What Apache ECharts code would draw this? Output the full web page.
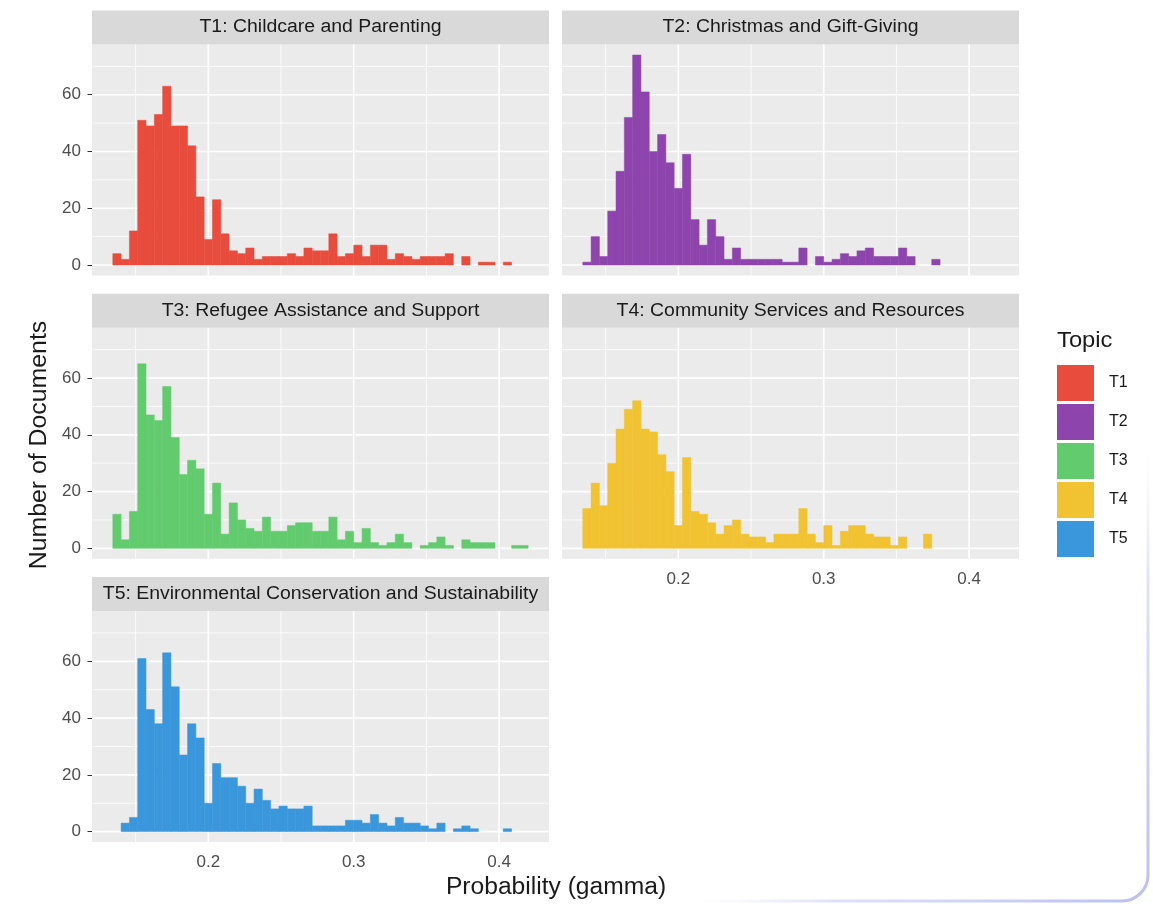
<!DOCTYPE html>
<html>
<head>
<meta charset="utf-8">
<title>Topic probability histograms</title>
<script src="https://cdn.jsdelivr.net/npm/echarts@6/dist/echarts.min.js"></script>
<style>
  html, body { margin: 0; padding: 0; background: #ffffff; }
  #chart { width: 1153px; height: 904px; }
</style>
</head>
<body>
<div id="chart"></div>
<script>
// Histogram bins shared by every facet (50 bins on the gamma scale)
const binStart = 0.1343;
const binWidth = 0.005714;

const topicNames = ['T1', 'T2', 'T3', 'T4', 'T5'];
const topicTitles = [
  'T1: Childcare and Parenting',
  'T2: Christmas and Gift-Giving',
  'T3: Refugee Assistance and Support',
  'T4: Community Services and Resources',
  'T5: Environmental Conservation and Sustainability'
];
const topicColors = ['#E74C3C', '#8E44AD', '#62CB6E', '#F1C232', '#3A97DB'];

// Document counts per bin
const countsT1 = [4, 2, 12, 51, 49, 53, 63, 49, 49, 42, 24, 9, 23, 11, 5, 4, 6, 2, 3, 3,
                  3, 4, 3, 6, 5, 5, 11, 3, 4, 7, 3, 7, 7, 2, 4, 3, 2, 3, 3, 3,
                  4, 0, 3, 0, 1, 1, 0, 1, 0, 0];
const countsT2 = [1, 10, 3, 19, 33, 52, 74, 61, 40, 46, 36, 27, 39, 16, 7, 16, 10, 2, 6, 2,
                  2, 2, 2, 2, 1, 1, 6, 0, 3, 1, 2, 4, 3, 5, 6, 3, 3, 3, 6, 3,
                  0, 0, 2, 0, 0, 0, 0, 0, 0, 0];
const countsT3 = [12, 3, 13, 65, 47, 45, 57, 39, 26, 31, 28, 12, 23, 5, 16, 10, 7, 6, 11, 6,
                  6, 8, 9, 9, 6, 6, 11, 3, 6, 2, 7, 2, 1, 2, 5, 2, 0, 1, 2, 4,
                  1, 0, 3, 2, 2, 2, 0, 0, 1, 1];
const countsT4 = [14, 23, 15, 30, 42, 49, 52, 42, 41, 33, 27, 8, 32, 13, 12, 9, 5, 8, 10, 5,
                  4, 4, 2, 5, 5, 5, 14, 5, 2, 8, 1, 6, 8, 8, 5, 4, 4, 1, 4, 0,
                  0, 5, 0, 0, 0, 0, 0, 0, 0, 0];
const countsT5 = [0, 3, 5, 61, 43, 38, 63, 51, 27, 38, 33, 10, 24, 19, 19, 16, 10, 15, 11, 8,
                  9, 8, 8, 9, 2, 2, 2, 2, 4, 4, 3, 6, 3, 2, 5, 3, 3, 2, 1, 3,
                  0, 1, 2, 1, 0, 0, 0, 1, 0, 0];

// Axis breaks
const xTicks = [0.2, 0.3, 0.4];
const xMinorTicks = [0.15, 0.25, 0.35];
const yTicks = [0, 20, 40, 60];
const yMinorTicks = [10, 30, 50, 70];
const xRange = [0.12, 0.4343];
const yRange = [-3.7, 77.7];

const allCounts = [countsT1, countsT2, countsT3, countsT4, countsT5];

// Facet layout
const FONT = "'Liberation Sans', Arial, Helvetica, sans-serif";
const colLeft = [92, 562];
const rowTop = [44.5, 327.8, 611.1];
const panelW = 457, panelH = 231, stripH = 34;
const panelCol = [0, 1, 0, 1, 0];
const panelRow = [0, 0, 1, 1, 2];
const hasXLabels = [false, false, false, true, true];

function renderBar(params, api) {
  const p0 = api.coord([api.value(0), 0]);
  const p1 = api.coord([api.value(1), api.value(2)]);
  const color = api.visual('color');
  return {
    type: 'rect',
    shape: { x: p0[0], y: p1[1], width: p1[0] - p0[0], height: p0[1] - p1[1] },
    style: { fill: color, stroke: color, lineWidth: 0.5 }
  };
}

function renderGridLine(params, api) {
  const cs = params.coordSys;
  const isX = api.value(0) === 0;
  const v = api.value(1);
  const major = api.value(2) === 1;
  const p = api.coord(isX ? [v, 0] : [xRange[0], v]);
  const shape = isX
    ? { x1: p[0], y1: cs.y, x2: p[0], y2: cs.y + cs.height }
    : { x1: cs.x, y1: p[1], x2: cs.x + cs.width, y2: p[1] };
  return {
    type: 'line',
    shape: shape,
    style: { stroke: '#FFFFFF', lineWidth: major ? 1.7 : 0.8 },
    silent: true
  };
}

const grids = [], xAxes = [], yAxes = [], series = [], graphics = [];

topicNames.forEach(function (name, i) {
  const left = colLeft[panelCol[i]];
  const top = rowTop[panelRow[i]];
  const showY = panelCol[i] === 0;
  const showX = hasXLabels[i];

  grids.push({
    left: left, top: top, width: panelW, height: panelH,
    show: true, backgroundColor: '#EBEBEB', borderWidth: 0,
    containLabel: false, outerBoundsMode: 'none'
  });

  xAxes.push({
    gridIndex: i, type: 'value', min: xRange[0], max: xRange[1],
    splitLine: { show: false }, axisLine: { show: false },
    axisTick: { show: showX, customValues: xTicks, length: 4.5, lineStyle: { color: '#333333', width: 1 } },
    axisLabel: {
      show: showX, customValues: xTicks, margin: 12,
      fontFamily: FONT, fontSize: 17, color: '#4D4D4D',
      formatter: function (v) { return v.toFixed(1); }
    }
  });

  yAxes.push({
    gridIndex: i, type: 'value', min: yRange[0], max: yRange[1],
    splitLine: { show: false }, axisLine: { show: false },
    axisTick: { show: showY, customValues: yTicks, length: 4.5, lineStyle: { color: '#333333', width: 1 } },
    axisLabel: {
      show: showY, customValues: yTicks, margin: 11,
      fontFamily: FONT, fontSize: 17, color: '#4D4D4D'
    }
  });

  const gridData = []
    .concat(xMinorTicks.map(function (v) { return [0, v, 0]; }))
    .concat(yMinorTicks.map(function (v) { return [1, v, 0]; }))
    .concat(xTicks.map(function (v) { return [0, v, 1]; }))
    .concat(yTicks.map(function (v) { return [1, v, 1]; }));

  series.push({
    type: 'custom', name: 'gridlines-' + name,
    xAxisIndex: i, yAxisIndex: i, z: 1, silent: true,
    renderItem: renderGridLine, data: gridData,
    encode: { x: 1, y: 1 }
  });

  const barData = [];
  allCounts[i].forEach(function (c, k) {
    if (c > 0) {
      barData.push([binStart + k * binWidth, binStart + (k + 1) * binWidth, c]);
    }
  });

  series.push({
    type: 'custom', name: name,
    xAxisIndex: i, yAxisIndex: i, z: 3,
    itemStyle: { color: topicColors[i] },
    renderItem: renderBar, data: barData,
    encode: { x: [0, 1], y: 2 }
  });

  // facet strip
  graphics.push({
    type: 'rect', silent: true,
    shape: { x: left, y: top - stripH, width: panelW, height: stripH },
    style: { fill: '#D9D9D9' }
  });
  graphics.push({
    type: 'text', silent: true,
    x: left + panelW / 2, y: top - stripH / 2, scaleX: 1.08,
    style: {
      text: topicTitles[i], fill: '#1A1A1A',
      font: '18px ' + FONT,
      align: 'center', verticalAlign: 'middle',
      textAlign: 'center', textVerticalAlign: 'middle'
    }
  });
});

// axis titles
graphics.push({
  type: 'text', silent: true,
  x: 556, y: 888, scaleX: 1.07,
  style: {
    text: 'Probability (gamma)', fill: '#1A1A1A', font: '23px ' + FONT,
    align: 'center', verticalAlign: 'middle', textAlign: 'center', textVerticalAlign: 'middle'
  }
});
graphics.push({
  type: 'text', silent: true,
  x: 40, y: 445, rotation: Math.PI / 2, scaleX: 1.08,
  style: {
    text: 'Number of Documents', fill: '#1A1A1A', font: '23px ' + FONT,
    align: 'center', verticalAlign: 'middle', textAlign: 'center', textVerticalAlign: 'middle'
  }
});
// legend title
graphics.push({
  type: 'text', silent: true,
  x: 1057, y: 341, scaleX: 1.08,
  style: {
    text: 'Topic', fill: '#1A1A1A', font: '22px ' + FONT,
    align: 'left', verticalAlign: 'middle', textAlign: 'left', textVerticalAlign: 'middle'
  }
});
// soft frame edge at the lower right
graphics.push({
  type: 'rect', silent: true, z: -1,
  shape: { x: -100, y: -100, width: 1248, height: 1001, r: 26 },
  style: {
    fill: 'none', lineWidth: 3,
    stroke: {
      type: 'radial', x: 1, y: 1, r: 0.45,
      colorStops: [
        { offset: 0, color: 'rgba(185,190,240,1)' },
        { offset: 0.7, color: 'rgba(200,204,245,0.6)' },
        { offset: 1, color: 'rgba(220,222,250,0)' }
      ]
    }
  }
});

const option = {
  backgroundColor: '#FFFFFF',
  animation: false,
  textStyle: { fontFamily: FONT },
  grid: grids,
  xAxis: xAxes,
  yAxis: yAxes,
  legend: {
    data: topicNames,
    orient: 'vertical',
    left: 1057, top: 365,
    itemWidth: 37, itemHeight: 36, itemGap: 3,
    icon: 'rect', selectedMode: false, padding: 0,
    textStyle: { fontFamily: FONT, fontSize: 16, color: '#1A1A1A', padding: [0, 0, 0, 10] }
  },
  graphic: graphics,
  series: series
};

const chart = echarts.init(document.getElementById('chart'));
chart.setOption(option);
</script>
</body>
</html>
